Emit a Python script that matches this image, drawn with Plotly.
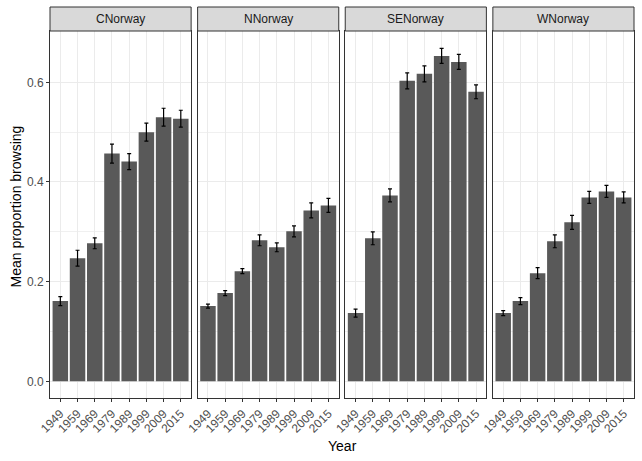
import plotly.graph_objects as go

years = ["1949", "1959", "1969", "1979", "1989", "1999", "2009", "2015"]
regions = ["CNorway", "NNorway", "SENorway", "WNorway"]

cnorway_mean = [0.161, 0.247, 0.277, 0.457, 0.441, 0.500, 0.530, 0.527]
cnorway_se = [0.009, 0.016, 0.011, 0.019, 0.016, 0.018, 0.018, 0.017]
nnorway_mean = [0.151, 0.177, 0.221, 0.283, 0.269, 0.301, 0.343, 0.353]
nnorway_se = [0.004, 0.005, 0.005, 0.011, 0.009, 0.011, 0.015, 0.014]
senorway_mean = [0.137, 0.287, 0.373, 0.603, 0.617, 0.653, 0.641, 0.581]
senorway_se = [0.008, 0.013, 0.013, 0.016, 0.016, 0.015, 0.015, 0.014]
wnorway_mean = [0.137, 0.161, 0.217, 0.281, 0.319, 0.369, 0.381, 0.369]
wnorway_se = [0.005, 0.007, 0.011, 0.013, 0.014, 0.012, 0.012, 0.011]

means = [cnorway_mean, nnorway_mean, senorway_mean, wnorway_mean]
ses = [cnorway_se, nnorway_se, senorway_se, wnorway_se]

W, H = 642, 461
ml, mr, mt, mb = 49.5, 8, 31, 63
pw = W - ml - mr
ph = H - mt - mb
panel_w = 141.25
gap = 6.5
strip_h = 24

fig = go.Figure()
layout = dict(
    width=W, height=H,
    margin=dict(l=ml, r=mr, t=mt, b=mb, autoexpand=False),
    paper_bgcolor="white", plot_bgcolor="white",
    showlegend=False,
    font=dict(family="Liberation Sans, Arial, sans-serif", color="#4D4D4D", size=12),
    bargap=0.1,
)
shapes = []
annotations = []
for i, reg in enumerate(regions):
    sfx = "" if i == 0 else str(i + 1)
    fig.add_trace(go.Bar(
        x=years, y=means[i], xaxis="x" + sfx, yaxis="y" + sfx,
        marker=dict(color="#595959", line=dict(width=0)), width=0.9,
        error_y=dict(type="data", array=ses[i], color="black", thickness=1.2, width=2),
        hoverinfo="x+y",
    ))
    x0 = i * (panel_w + gap) / pw
    x1 = (i * (panel_w + gap) + panel_w) / pw
    layout["xaxis" + sfx] = dict(
        domain=[x0, x1], anchor="y" + sfx, type="category",
        range=[-0.6, 7.6], tickangle=-45, ticks="outside", ticklen=3,
        tickcolor="#333333", tickwidth=1,
        showgrid=True, gridcolor="#EBEBEB", gridwidth=1,
        showline=True, mirror=True, linecolor="#333333", linewidth=1,
        tickfont=dict(size=12, color="#4D4D4D"), zeroline=False,
    )
    ya = dict(
        domain=[0, 1], anchor="x" + sfx, range=[-0.0335, 0.703],
        tickvals=[0, 0.2, 0.4, 0.6], ticktext=["0.0", "0.2", "0.4", "0.6"],
        showgrid=True, gridcolor="#EBEBEB", gridwidth=1,
        minor=dict(tickvals=[0.1, 0.3, 0.5], showgrid=True, gridcolor="#F0F0F0", gridwidth=0.6, ticks=""),
        showline=True, mirror=True, linecolor="#333333", linewidth=1,
        zeroline=False, tickfont=dict(size=12, color="#4D4D4D"),
    )
    if i == 0:
        ya.update(ticks="outside", ticklen=3, tickcolor="#333333", tickwidth=1)
    else:
        ya.update(showticklabels=False, ticks="", matches="y")
    layout["yaxis" + sfx] = ya
    shapes.append(dict(
        type="rect", xref="x" + sfx + " domain", yref="paper",
        x0=0, x1=1, y0=1, y1=1 + strip_h / ph,
        fillcolor="#D9D9D9", line=dict(color="#333333", width=1), layer="above",
    ))
    annotations.append(dict(
        text=reg, xref="x" + sfx + " domain", yref="paper",
        x=0.5, y=1 + strip_h / 2 / ph, showarrow=False,
        font=dict(size=12, color="#1A1A1A"), xanchor="center", yanchor="middle",
    ))

annotations.append(dict(
    text="Mean proportion browsing", xref="paper", yref="paper",
    x=-(ml - 15) / pw, y=(398 - 207) / ph, textangle=-90, showarrow=False,
    font=dict(size=14, color="black"), xanchor="center", yanchor="middle",
))
annotations.append(dict(
    text="Year", xref="paper", yref="paper",
    x=0.5, y=-(446 - 398) / ph, showarrow=False,
    font=dict(size=14, color="black"), xanchor="center", yanchor="middle",
))
layout["shapes"] = shapes
layout["annotations"] = annotations
fig.update_layout(**layout)
fig.write_html("out.html")
